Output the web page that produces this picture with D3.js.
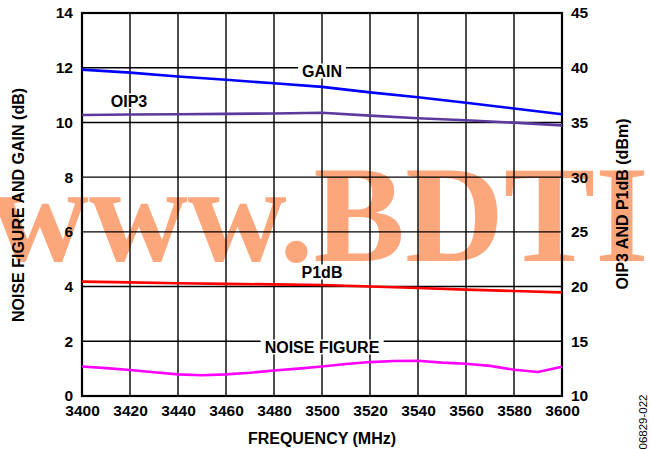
<!DOCTYPE html>
<html><head><meta charset="utf-8">
<script src="https://cdn.jsdelivr.net/npm/d3@7"></script>
<style>body{margin:0;background:#fff}svg{display:block;font-family:"Liberation Sans",Arial,sans-serif}</style>
</head><body><svg id="c" width="650" height="449"></svg>
<script>
const freqs = [3400,3420,3440,3460,3480,3500,3520,3540,3560,3580,3600];
const gain = [11.93,11.82,11.68,11.56,11.43,11.30,11.10,10.92,10.72,10.51,10.30];
const oip3 = [35.68,35.72,35.75,35.78,35.82,35.88,35.62,35.38,35.20,34.98,34.73];
const p1db = [20.45,20.38,20.30,20.25,20.20,20.14,20.00,19.87,19.72,19.60,19.47];
const nfFreqs = [3400,3410,3420,3430,3440,3450,3460,3470,3480,3490,3500,3510,3520,3530,3540,3550,3560,3570,3580,3590,3600];
const noiseFigure = [1.08,1.02,0.95,0.87,0.79,0.76,0.79,0.85,0.93,1.0,1.08,1.17,1.24,1.28,1.29,1.22,1.18,1.10,0.96,0.88,1.07];
const xTicks = [3400,3420,3440,3460,3480,3500,3520,3540,3560,3580,3600];
const leftTicks = [0,2,4,6,8,10,12,14];
const rightTicks = [10,15,20,25,30,35,40,45];

const svg = d3.select("#c");
const L=82,R=562,T=13,B=396;
const x = d3.scaleLinear().domain([3400,3600]).range([L,R]);
const yL = d3.scaleLinear().domain([0,14]).range([B,T]);
const yR = d3.scaleLinear().domain([10,45]).range([B,T]);

// watermark (beneath everything)
svg.append("text").attr("x",-10).attr("y",261).attr("font-family","Liberation Serif, Times New Roman, serif")
 .attr("font-weight","bold").attr("font-size","137px").attr("fill","#fca67c")
 .text("www.BDTI");

// grid
const g = svg.append("g");
g.selectAll("line.v").data(xTicks).join("line")
 .attr("x1",d=>x(d)).attr("x2",d=>x(d)).attr("y1",T).attr("y2",B)
 .attr("stroke","#000").attr("stroke-width",1.4);
g.selectAll("line.h").data(leftTicks).join("line")
 .attr("x1",L).attr("x2",R).attr("y1",d=>yL(d)).attr("y2",d=>yL(d))
 .attr("stroke","#000").attr("stroke-width",1.4);
svg.append("rect").attr("x",L).attr("y",T).attr("width",R-L).attr("height",B-T)
 .attr("fill","none").attr("stroke","#000").attr("stroke-width",2.2);

// axes
const fs = "15.5px";
const axB = d3.axisBottom(x).tickValues(xTicks).tickSize(0).tickPadding(9).tickFormat(d3.format("d"));
const gB = svg.append("g").attr("transform",`translate(0,${B})`).call(axB);
const axLf = d3.axisLeft(yL).tickValues(leftTicks).tickSize(0).tickPadding(9);
const gL = svg.append("g").attr("transform",`translate(${L},0)`).call(axLf);
const axRt = d3.axisRight(yR).tickValues(rightTicks).tickSize(0).tickPadding(9);
const gR = svg.append("g").attr("transform",`translate(${R},0)`).call(axRt);
[gB,gL,gR].forEach(a=>{a.select(".domain").remove();
 a.selectAll("text").attr("font-size",fs).attr("font-weight","bold").attr("fill","#000")
  .attr("font-family","Liberation Sans, Arial, sans-serif");});

// lines
const lineL = d3.line().x((d,i)=>x(freqs[i])).y(d=>yL(d));
const lineR = d3.line().x((d,i)=>x(freqs[i])).y(d=>yR(d));
const lineNF = d3.line().x((d,i)=>x(nfFreqs[i])).y(d=>yL(d));
svg.append("path").attr("d",lineR(p1db)).attr("fill","none").attr("stroke","#ff0000").attr("stroke-width",2.6);
svg.append("path").attr("d",lineNF(noiseFigure)).attr("fill","none").attr("stroke","#ff00ff").attr("stroke-width",2.6);
svg.append("path").attr("d",lineR(oip3)).attr("fill","none").attr("stroke","#5b3a9e").attr("stroke-width",2.6);
svg.append("path").attr("d",lineL(gain)).attr("fill","none").attr("stroke","#0000ff").attr("stroke-width",2.6);

// series labels
const labels = [
 {t:"GAIN", cx:322, cy:71},
 {t:"OIP3", cx:129, cy:101},
 {t:"P1dB", cx:322, cy:272},
 {t:"NOISE FIGURE", cx:322, cy:347}
];
labels.forEach(l=>{
 const tx = svg.append("text").attr("x",l.cx).attr("y",l.cy).attr("text-anchor","middle")
  .attr("dominant-baseline","central").attr("font-size","16px").attr("font-weight","bold").text(l.t);
 const bb = tx.node().getBBox();
 svg.insert("rect", ()=>tx.node()).attr("x",bb.x-4).attr("y",bb.y+1).attr("width",bb.width+8).attr("height",bb.height-2).attr("fill","#fff");
});

// axis titles
svg.append("text").attr("x",322).attr("y",438).attr("text-anchor","middle").attr("dominant-baseline","central")
 .attr("font-size","16px").attr("font-weight","bold").text("FREQUENCY (MHz)");
svg.append("text").attr("transform","translate(18,205) rotate(-90)").attr("text-anchor","middle").attr("dominant-baseline","central")
 .attr("font-size","16px").attr("font-weight","bold").text("NOISE FIGURE AND GAIN (dB)");
svg.append("text").attr("transform","translate(622,204) rotate(-90)").attr("text-anchor","middle").attr("dominant-baseline","central")
 .attr("font-size","16px").attr("font-weight","bold").text("OIP3 AND P1dB (dBm)");
svg.append("text").attr("transform","translate(643,422) rotate(-90)").attr("text-anchor","middle").attr("dominant-baseline","central")
 .attr("font-size","11.5px").text("06829-022");
</script></body></html>
